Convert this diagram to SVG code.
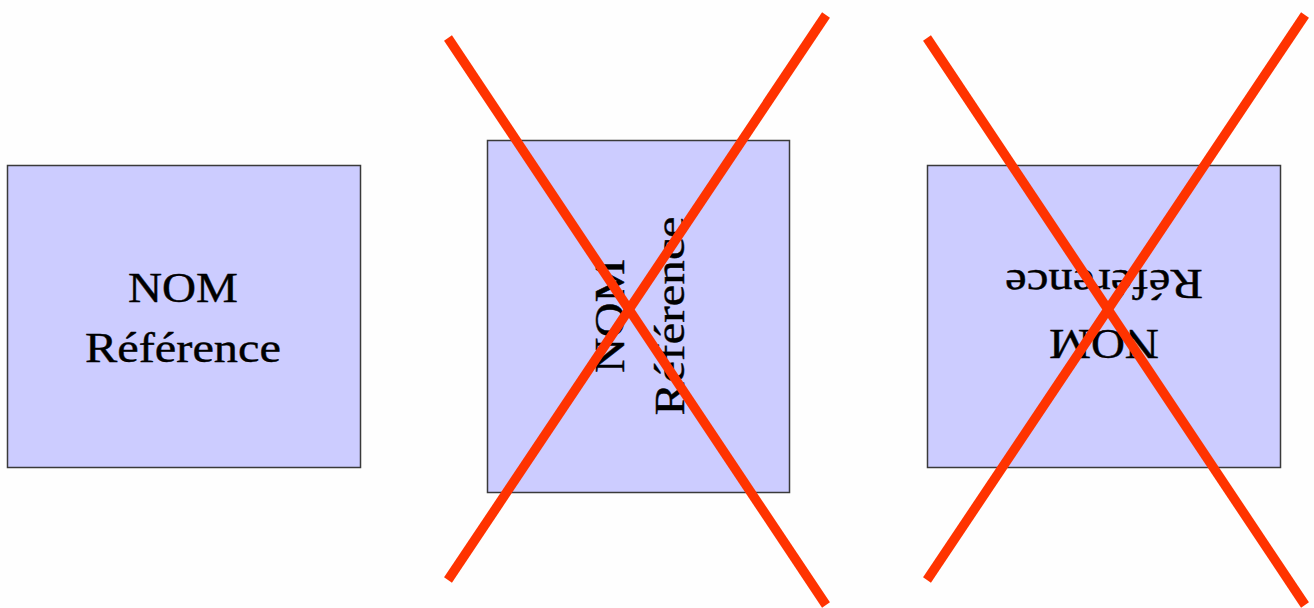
<svg xmlns="http://www.w3.org/2000/svg" width="1314" height="608" viewBox="0 0 1314 608">
  <style>
    .box { fill: #CCCCFF; stroke: #3a3a3a; stroke-width: 1.5; }
    .lbl { font-family: "Liberation Serif", "Times New Roman", serif; font-size: 42px; fill: #000; stroke: #000; stroke-width: 0.4; text-anchor: middle; }
    .cross { stroke: #FF3300; stroke-width: 9.5; stroke-linecap: butt; fill: none; }
  </style>
  <rect width="1314" height="608" fill="#FEFEFE"/>
  <g id="node-normal">
    <rect class="box" x="7.5" y="165.5" width="353" height="302"/>
    <g transform="translate(183,316)">
      <text class="lbl" x="0" y="-14" textLength="110" lengthAdjust="spacingAndGlyphs">NOM</text>
      <text class="lbl" x="0" y="46" textLength="196" lengthAdjust="spacingAndGlyphs">Référence</text>
    </g>
  </g>
  <g id="node-rotated">
    <rect class="box" x="487.5" y="140.5" width="302" height="352"/>
    <g transform="translate(638,316) rotate(-90)">
      <text class="lbl" x="0" y="-14" textLength="114" lengthAdjust="spacingAndGlyphs">NOM</text>
      <text class="lbl" x="0" y="46" textLength="199" lengthAdjust="spacingAndGlyphs">Référence</text>
    </g>
  </g>
  <g id="node-upside-down">
    <rect class="box" x="927.5" y="165.5" width="353" height="302"/>
    <g transform="translate(1104,316) rotate(180)">
      <text class="lbl" x="0" y="-14" textLength="110" lengthAdjust="spacingAndGlyphs">NOM</text>
      <text class="lbl" x="0" y="46" textLength="198" lengthAdjust="spacingAndGlyphs">Référence</text>
    </g>
  </g>
  <g id="connectors">
    <line class="cross" x1="448" y1="38" x2="826" y2="605"/>
    <line class="cross" x1="826" y1="15" x2="448" y2="580"/>
    <line class="cross" x1="927" y1="38" x2="1305" y2="605"/>
    <line class="cross" x1="1305" y1="15" x2="927" y2="580"/>
  </g>
</svg>
